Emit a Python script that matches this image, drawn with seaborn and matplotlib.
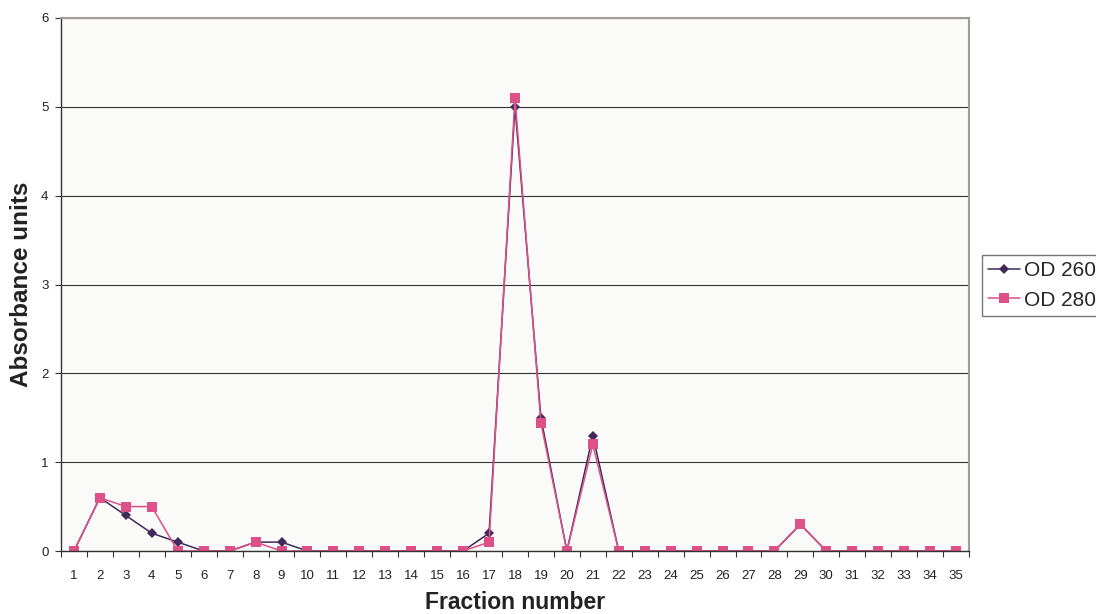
import matplotlib
matplotlib.use("Agg")
import matplotlib.pyplot as plt
import seaborn as sns
import pandas as pd
import numpy as np

# Fraction numbers and absorbance readings
fractions = list(range(1, 36))
od260 = [0, 0.6, 0.4, 0.2, 0.1, 0, 0, 0.1, 0.1, 0,
         0, 0, 0, 0, 0, 0, 0.2, 5.0, 1.5, 0,
         1.3, 0, 0, 0, 0, 0, 0, 0, 0.3, 0,
         0, 0, 0, 0, 0]
od280 = [0, 0.6, 0.5, 0.5, 0, 0, 0, 0.1, 0, 0,
         0, 0, 0, 0, 0, 0, 0.1, 5.1, 1.44, 0,
         1.2, 0, 0, 0, 0, 0, 0, 0, 0.3, 0,
         0, 0, 0, 0, 0]
series_names = ["OD 260", "OD 280"]
y_ticks = [0, 1, 2, 3, 4, 5, 6]

df = pd.DataFrame({
    "Fraction": fractions * 2,
    "Absorbance": od260 + od280,
    "Series": [series_names[0]] * len(fractions) + [series_names[1]] * len(fractions),
})

sns.set_theme(style="white")
plt.rcParams["font.family"] = ["Liberation Sans", "DejaVu Sans"]

fig = plt.figure(figsize=(10.96, 6.14), dpi=100)
fig.patch.set_facecolor("white")
ax = fig.add_axes([61 / 1096, 63 / 614, 908 / 1096, 533 / 614])
ax.set_facecolor("#fafaf8")

palette = {"OD 260": "#3f2a5a", "OD 280": "#dd5088"}
markers = {"OD 260": "D", "OD 280": "s"}
sizes = {"OD 260": 5.5, "OD 280": 7}

for name in series_names:
    sub = df[df["Series"] == name]
    sns.lineplot(data=sub, x="Fraction", y="Absorbance", ax=ax,
                 color=palette[name], marker=markers[name],
                 markersize=sizes[name], markeredgewidth=0,
                 linewidth=1.1, label=name, legend=False, zorder=3)

ax.set_xlim(0.5, 35.5)
ax.set_ylim(0, 6)
ax.set_xticks(fractions)
ax.set_xticklabels([str(f) for f in fractions], fontsize=9.5, color="#222222")
ax.set_xticks(np.arange(0.5, 36, 1), minor=True)
ax.tick_params(axis="x", which="major", length=0, pad=14)
ax.tick_params(axis="x", which="minor", length=4, width=0.8, color="#333333", direction="out", bottom=True)
ax.set_yticks(y_ticks)
ax.set_yticklabels([str(v) for v in y_ticks], fontsize=9.5, color="#222222")
ax.tick_params(axis="y", which="major", length=4, width=0.8, color="#333333", direction="out", left=True, pad=5)

ax.grid(axis="y", color="#333333", linewidth=0.8)
ax.grid(axis="x", visible=False)
ax.set_axisbelow(True)

for side in ["top", "right"]:
    ax.spines[side].set_color("#a09c98")
    ax.spines[side].set_linewidth(1.5)
for side in ["left", "bottom"]:
    ax.spines[side].set_color("#333333")
    ax.spines[side].set_linewidth(1.0)
ax.spines["bottom"].set_zorder(4)

ax.set_xlabel("Fraction number", fontsize=16.5, fontweight="bold", color="#222222", labelpad=6)
ax.set_ylabel("Absorbance units", fontsize=17.5, fontweight="bold", color="#222222", labelpad=6)

handles, labels = ax.get_legend_handles_labels()
leg = fig.legend(handles, labels, loc="upper left",
                 bbox_to_anchor=(982 / 1096, 1 - 255 / 614),
                 frameon=True, fancybox=False, fontsize=15,
                 handlelength=1.5, handletextpad=0.2, borderpad=0.3,
                 labelspacing=0.5, borderaxespad=0)
leg.get_frame().set_edgecolor("#555555")
leg.get_frame().set_linewidth(1.0)

fig.savefig("out.png", dpi=100)
